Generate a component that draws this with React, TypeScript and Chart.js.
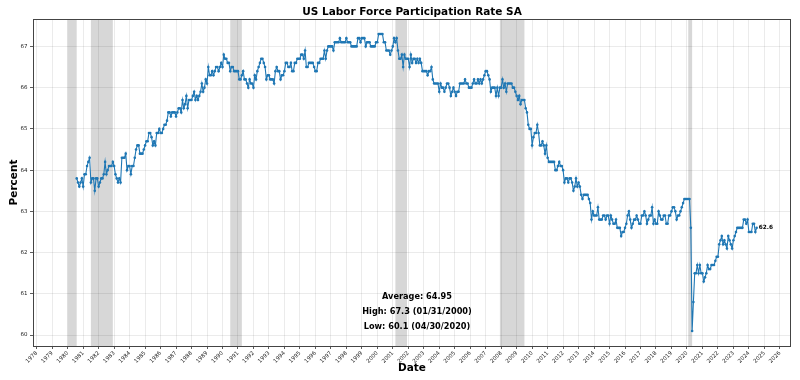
import { useEffect, useRef } from "react";
import { Chart, registerables } from "chart.js";

Chart.register(...registerables);

const TITLE = "US Labor Force Participation Rate SA";
const X_LABEL = "Date";
const Y_LABEL = "Percent";

// first observation: July 1980 (month-end dates)
const START_YEAR = 1980;
const START_MONTH = 7;

// monthly values, Jul 1980 .. Dec 1989
const values1980s = [
  63.8, 63.7, 63.6, 63.7, 63.8, 63.6,
  63.9, 63.9, 64.1, 64.2, 64.3, 63.7, 63.8, 63.8, 63.5, 63.8, 63.8, 63.6,
  63.7, 63.8, 63.8, 63.9, 64.2, 63.9, 64.0, 64.1, 64.1, 64.1, 64.2, 64.1,
  63.9, 63.8, 63.7, 63.8, 63.7, 64.3, 64.3, 64.3, 64.4, 64.0, 64.1, 64.1,
  63.9, 64.1, 64.1, 64.3, 64.5, 64.6, 64.6, 64.4, 64.4, 64.4, 64.5, 64.6,
  64.7, 64.7, 64.9, 64.9, 64.8, 64.6, 64.7, 64.6, 64.9, 64.9, 65.0, 64.9,
  64.9, 65.0, 65.1, 65.1, 65.2, 65.4, 65.4, 65.3, 65.4, 65.4, 65.4, 65.3,
  65.4, 65.5, 65.5, 65.4, 65.7, 65.5, 65.6, 65.8, 65.5, 65.7, 65.7, 65.7,
  65.8, 65.9, 65.7, 65.8, 65.7, 65.8, 65.9, 66.1, 65.9, 66.0, 66.2, 66.1,
  66.5, 66.3, 66.3, 66.4, 66.3, 66.4, 66.5, 66.5, 66.4, 66.5, 66.6, 66.5,
];

const values1990s = [
  66.8, 66.7, 66.7, 66.6, 66.6, 66.4, 66.5, 66.5, 66.4, 66.4, 66.4, 66.4,
  66.2, 66.2, 66.3, 66.4, 66.2, 66.2, 66.1, 66.0, 66.2, 66.1, 66.1, 66.0,
  66.3, 66.2, 66.4, 66.5, 66.6, 66.7, 66.7, 66.6, 66.5, 66.2, 66.3, 66.3,
  66.2, 66.2, 66.2, 66.1, 66.4, 66.5, 66.4, 66.4, 66.2, 66.3, 66.3, 66.4,
  66.6, 66.6, 66.5, 66.5, 66.6, 66.4, 66.4, 66.6, 66.6, 66.7, 66.7, 66.7,
  66.8, 66.8, 66.7, 66.9, 66.5, 66.5, 66.6, 66.6, 66.6, 66.6, 66.5, 66.4,
  66.4, 66.6, 66.6, 66.7, 66.7, 66.7, 66.9, 66.7, 66.9, 67.0, 67.0, 67.0,
  67.0, 66.9, 67.1, 67.1, 67.1, 67.1, 67.2, 67.1, 67.1, 67.1, 67.1, 67.2,
  67.1, 67.1, 67.1, 67.0, 67.0, 67.0, 67.0, 67.0, 67.2, 67.2, 67.1, 67.2,
  67.2, 67.2, 67.0, 67.1, 67.1, 67.1, 67.0, 67.0, 67.0, 67.0, 67.1, 67.1,
];

const values2000s = [
  67.3, 67.3, 67.3, 67.3, 67.1, 67.1, 66.9, 66.9, 66.9, 66.8, 66.9, 67.0,
  67.2, 67.1, 67.2, 66.9, 66.7, 66.7, 66.8, 66.5, 66.8, 66.7, 66.7, 66.7,
  66.5, 66.8, 66.6, 66.7, 66.7, 66.6, 66.7, 66.6, 66.7, 66.6, 66.4, 66.4,
  66.4, 66.4, 66.3, 66.4, 66.4, 66.5, 66.2, 66.1, 66.1, 66.1, 66.1, 65.9,
  66.1, 66.0, 66.0, 65.9, 66.0, 66.1, 66.1, 66.0, 65.8, 65.9, 66.0, 65.9,
  65.8, 65.9, 65.9, 66.1, 66.1, 66.1, 66.1, 66.2, 66.1, 66.1, 66.0, 66.0,
  66.0, 66.1, 66.2, 66.1, 66.1, 66.2, 66.1, 66.2, 66.1, 66.2, 66.3, 66.4,
  66.4, 66.3, 66.2, 65.9, 66.0, 66.0, 66.0, 65.8, 66.0, 65.8, 66.0, 66.0,
  66.2, 66.0, 66.1, 65.9, 66.1, 66.1, 66.1, 66.1, 66.0, 66.0, 65.9, 65.8,
  65.7, 65.8, 65.6, 65.7, 65.7, 65.7, 65.5, 65.4, 65.1, 65.0, 65.0, 64.6,
];

const values2010s = [
  64.8, 64.9, 64.9, 65.1, 64.9, 64.6, 64.6, 64.7, 64.6, 64.4, 64.6, 64.3,
  64.2, 64.2, 64.2, 64.2, 64.2, 64.0, 64.0, 64.1, 64.2, 64.1, 64.1, 64.0,
  63.7, 63.8, 63.8, 63.7, 63.8, 63.8, 63.7, 63.5, 63.6, 63.8, 63.6, 63.7,
  63.6, 63.4, 63.3, 63.4, 63.4, 63.4, 63.4, 63.3, 63.2, 62.8, 63.0, 62.9,
  62.9, 62.9, 63.1, 62.8, 62.8, 62.8, 62.9, 62.9, 62.8, 62.9, 62.9, 62.7,
  62.9, 62.8, 62.7, 62.7, 62.8, 62.6, 62.6, 62.6, 62.4, 62.5, 62.5, 62.6,
  62.7, 62.9, 63.0, 62.8, 62.6, 62.7, 62.8, 62.8, 62.9, 62.8, 62.7, 62.7,
  62.9, 62.9, 63.0, 62.9, 62.7, 62.8, 62.9, 62.9, 63.1, 62.7, 62.8, 62.7,
  62.7, 63.0, 62.9, 62.8, 62.8, 62.9, 62.9, 62.7, 62.7, 62.9, 62.9, 63.0,
  63.1, 63.1, 63.0, 62.8, 62.9, 62.9, 63.0, 63.1, 63.2, 63.3, 63.3, 63.3,
];

// Jan 2020 .. Jun 2024
const values2020s = [
  63.3, 63.3, 62.6, 60.1, 60.8, 61.5, 61.5, 61.7, 61.5, 61.7, 61.5, 61.5,
  61.3, 61.4, 61.5, 61.7, 61.6, 61.6, 61.7, 61.7, 61.7, 61.8, 61.9, 61.9,
  62.2, 62.3, 62.4, 62.2, 62.3, 62.2, 62.1, 62.4, 62.3, 62.2, 62.1, 62.3,
  62.4, 62.5, 62.6, 62.6, 62.6, 62.6, 62.6, 62.8, 62.8, 62.7, 62.8, 62.5,
  62.5, 62.5, 62.7, 62.7, 62.5, 62.6,
];

const yearTicks = [
  1978, 1979, 1980, 1981, 1982, 1983, 1984, 1985, 1986, 1987, 1988, 1989,
  1990, 1991, 1992, 1993, 1994, 1995, 1996, 1997, 1998, 1999, 2000, 2001,
  2002, 2003, 2004, 2005, 2006, 2007, 2008, 2009, 2010, 2011, 2012, 2013,
  2014, 2015, 2016, 2017, 2018, 2019, 2020, 2021, 2022, 2023, 2024, 2025, 2026,
];
const percentTicks = [60, 61, 62, 63, 64, 65, 66, 67];

// recession periods (decimal years)
const recessionStarts = [1980.0, 1981.5, 1990.5, 2001.167, 2007.917, 2020.083];
const recessionEnds = [1980.583, 1982.917, 1991.25, 2001.917, 2009.5, 2020.333];

const statLines = ["Average: 64.95", "High: 67.3 (01/31/2000)", "Low: 60.1 (04/30/2020)"];

const X_MIN = 1977.76;
const X_MAX = 2026.72;
const Y_MIN = 59.735;
const Y_MAX = 67.665;

const FONT = "'DejaVu Sans', 'Liberation Sans', sans-serif";
const LINE_COLOR = "#1f77b4";

function buildPoints() {
  const all = [...values1980s, ...values1990s, ...values2000s, ...values2010s, ...values2020s];
  return all.map((v, i) => {
    const m = START_MONTH - 1 + i;
    const year = START_YEAR + Math.floor(m / 12);
    const month = (m % 12) + 1;
    return { x: year + month / 12, y: v };
  });
}

const decorPlugin = {
  id: "decor",
  beforeDraw(chart: any) {
    const { ctx, chartArea: a, scales } = chart;
    const xs = scales.x;
    ctx.save();
    ctx.fillStyle = "rgba(150,150,150,0.38)";
    recessionStarts.forEach((s, i) => {
      const x0 = xs.getPixelForValue(s);
      const x1 = xs.getPixelForValue(recessionEnds[i]);
      ctx.fillRect(x0, a.top, x1 - x0, a.bottom - a.top);
    });
    ctx.restore();
  },
  afterDraw(chart: any) {
    const { ctx, chartArea: a, scales } = chart;
    ctx.save();
    // frame
    ctx.strokeStyle = "#444";
    ctx.lineWidth = 1;
    ctx.strokeRect(Math.round(a.left) + 0.5, Math.round(a.top) + 0.5, Math.round(a.right - a.left) - 1, Math.round(a.bottom - a.top));

    // title
    ctx.fillStyle = "#000";
    ctx.textAlign = "center";
    ctx.textBaseline = "middle";
    ctx.font = `bold 10.5px ${FONT}`;
    ctx.fillText(TITLE, (a.left + a.right) / 2, 12);

    // stats
    ctx.font = `bold 8.2px ${FONT}`;
    statLines.forEach((t, i) => {
      ctx.fillText(t, 417, 297 + i * 15);
    });

    // last value label
    const pts = chart.data.datasets[0].data;
    const last = pts[pts.length - 1];
    const px = scales.x.getPixelForValue(last.x);
    const py = scales.y.getPixelForValue(last.y);
    ctx.textAlign = "left";
    ctx.font = `bold 5.8px ${FONT}`;
    ctx.fillText(last.y.toFixed(1), px + 2, py);
    ctx.restore();
  },
};

export default function App() {
  const ref = useRef<HTMLCanvasElement>(null);
  useEffect(() => {
    document.body.style.margin = "0";
    Chart.defaults.font.family = FONT;
    const chart = new Chart(ref.current as HTMLCanvasElement, {
      type: "line",
      data: {
        datasets: [
          {
            data: buildPoints(),
            borderColor: LINE_COLOR,
            backgroundColor: LINE_COLOR,
            borderWidth: 1.1,
            pointRadius: 1.3,
            pointBorderWidth: 0,
            pointHoverRadius: 0,
            tension: 0,
          },
        ],
      },
      options: {
        responsive: false,
        animation: false,
        devicePixelRatio: 1,
        layout: { padding: { top: 19, right: 9, left: 0, bottom: 0 } },
        plugins: {
          legend: { display: false },
          tooltip: { enabled: false },
          title: { display: false },
        },
        scales: {
          x: {
            type: "linear",
            min: X_MIN,
            max: X_MAX,
            afterBuildTicks: (s: any) => {
              s.ticks = yearTicks.map((v) => ({ value: v }));
            },
            afterFit: (s: any) => {
              s.height = 34;
            },
            ticks: {
              autoSkip: false,
              minRotation: 45,
              maxRotation: 45,
              padding: 1,
              color: "#222",
              font: { size: 5.5, family: FONT },
              callback: (v: any) => String(v),
            },
            grid: {
              color: "rgba(0,0,0,0.1)",
              lineWidth: 0.8,
              drawTicks: true,
              tickLength: 3,
              tickColor: "#333",
            },
            border: { display: false },
            title: {
              display: true,
              text: X_LABEL,
              color: "#000",
              font: { size: 10.5, weight: "bold", family: FONT },
              padding: { top: 0, bottom: 5.7 },
            },
          },
          y: {
            type: "linear",
            min: Y_MIN,
            max: Y_MAX,
            afterBuildTicks: (s: any) => {
              s.ticks = percentTicks.map((v) => ({ value: v }));
            },
            afterFit: (s: any) => {
              s.width = 33;
            },
            ticks: {
              padding: 2.5,
              color: "#222",
              font: { size: 5.5, family: FONT },
              callback: (v: any) => String(v),
            },
            grid: {
              color: "rgba(0,0,0,0.1)",
              lineWidth: 0.8,
              drawTicks: true,
              tickLength: 3,
              tickColor: "#333",
            },
            border: { display: false },
            title: {
              display: true,
              text: Y_LABEL,
              color: "#000",
              font: { size: 10.5, weight: "bold", family: FONT },
              padding: { top: 7.7, bottom: 0 },
            },
          },
        },
      },
      plugins: [decorPlugin],
    } as any);
    return () => chart.destroy();
  }, []);
  return (
    <div style={{ width: 800, height: 380 }}>
      <canvas ref={ref} width={800} height={380} style={{ display: "block", width: 800, height: 380 }} />
    </div>
  );
}
